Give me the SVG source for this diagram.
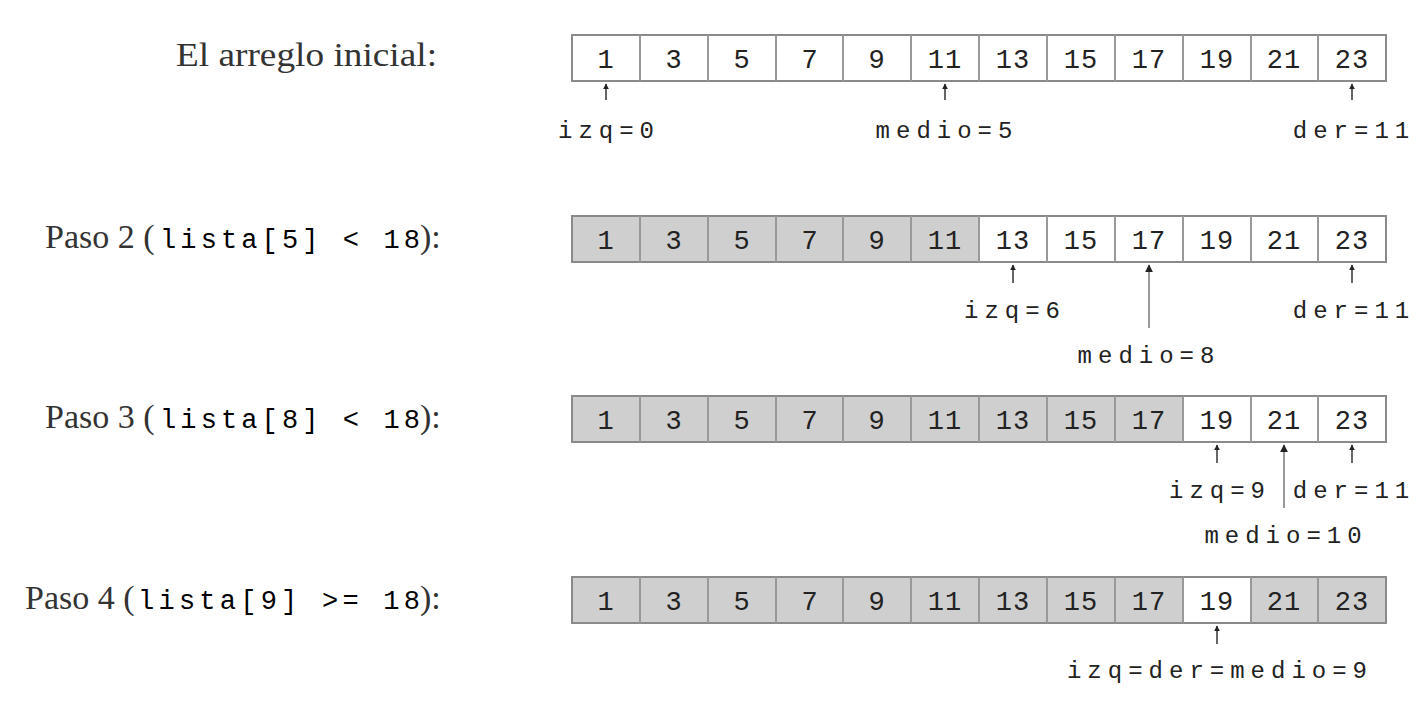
<svg xmlns="http://www.w3.org/2000/svg" width="1427" height="705" viewBox="0 0 1427 705">
<style>
.bg{fill:#fff}
.c{stroke:#8a8a8a;stroke-width:2;fill:none}
.g{fill:#cfcfcf}
.n{font-family:"Liberation Mono",monospace;font-size:27px;fill:#222;text-anchor:middle;letter-spacing:1px}
.l{font-family:"Liberation Mono",monospace;font-size:24px;fill:#222;text-anchor:middle;letter-spacing:6px}
.t{font-family:"Liberation Serif",serif;font-size:34px;fill:#333}
.m{font-family:"Liberation Mono",monospace;font-size:27px}
.a{stroke:#333;stroke-width:1.5;fill:none}
.a2{stroke:#999;stroke-width:2;fill:none}
</style>
<defs>
<marker id="ah" viewBox="0 0 10 10" refX="9" refY="5" markerWidth="4" markerHeight="4" orient="auto">
<path d="M0,0 L10,5 L0,10 z" fill="#222"/>
</marker>
<g id="nums">
<text class="n" x="606">1</text><text class="n" x="674">3</text><text class="n" x="742">5</text><text class="n" x="810">7</text><text class="n" x="877">9</text><text class="n" x="945">11</text><text class="n" x="1013">13</text><text class="n" x="1081">15</text><text class="n" x="1149">17</text><text class="n" x="1217">19</text><text class="n" x="1284">21</text><text class="n" x="1352">23</text>
</g>
<g id="grid">
<rect class="c" x="572" y="0" width="814" height="46"/>
<path class="a2" d="M640,0v46M708,0v46M776,0v46M843,0v46M911,0v46M979,0v46M1047,0v46M1115,0v46M1183,0v46M1251,0v46M1318,0v46"/>
</g>
</defs>
<rect class="bg" x="0" y="0" width="1427" height="705"/>

<g id="row1">
<text class="t" x="176" y="66" textLength="261" lengthAdjust="spacingAndGlyphs">El arreglo inicial:</text>
<rect x="572" y="35" width="814" height="46" fill="#fff"/>
<use href="#grid" y="35"/>
<use href="#nums" y="68"/>
</g>

<g id="row2">
<text class="t" x="45" y="248">Paso 2 (</text>
<text class="m" x="160" y="248" textLength="260" lengthAdjust="spacing">lista[5]  &lt;  18</text>
<text class="t" x="420" y="248">):</text>
<rect x="572" y="216" width="814" height="46" fill="#fff"/>
<rect class="g" x="572" y="216" width="407" height="46"/>
<use href="#grid" y="216"/>
<use href="#nums" y="249"/>
</g>

<g id="row3">
<text class="t" x="45" y="428">Paso 3 (</text>
<text class="m" x="160" y="428" textLength="260" lengthAdjust="spacing">lista[8]  &lt;  18</text>
<text class="t" x="420" y="428">):</text>
<rect x="572" y="396" width="814" height="46" fill="#fff"/>
<rect class="g" x="572" y="396" width="611" height="46"/>
<use href="#grid" y="396"/>
<use href="#nums" y="429"/>
</g>

<g id="row4">
<text class="t" x="25" y="609">Paso 4 (</text>
<text class="m" x="138" y="609" textLength="282" lengthAdjust="spacing">lista[9]  &gt;=  18</text>
<text class="t" x="420" y="609">):</text>
<rect x="572" y="577" width="814" height="46" fill="#fff"/>
<rect class="g" x="572" y="577" width="611" height="46"/>
<rect class="g" x="1251" y="577" width="135" height="46"/>
<use href="#grid" y="577"/>
<use href="#nums" y="610"/>
</g>

<g id="connectors">
<line class="a" x1="606" y1="100" x2="606" y2="84" marker-end="url(#ah)"/>
<line class="a" x1="945" y1="100" x2="945" y2="84" marker-end="url(#ah)"/>
<line class="a" x1="1352" y1="100" x2="1352" y2="84" marker-end="url(#ah)"/>
<line class="a" x1="1013" y1="283" x2="1013" y2="265" marker-end="url(#ah)"/>
<line class="a2" x1="1149" y1="328" x2="1149" y2="265" marker-end="url(#ah)"/>
<line class="a" x1="1352" y1="283" x2="1352" y2="265" marker-end="url(#ah)"/>
<line class="a" x1="1217" y1="463" x2="1217" y2="445" marker-end="url(#ah)"/>
<line class="a2" x1="1284" y1="508" x2="1284" y2="445" marker-end="url(#ah)"/>
<line class="a" x1="1352" y1="463" x2="1352" y2="445" marker-end="url(#ah)"/>
<line class="a" x1="1217" y1="644" x2="1217" y2="626" marker-end="url(#ah)"/>
</g>

<g id="labels">
<text class="l" x="609" y="138">izq=0</text>
<text class="l" x="947" y="138">medio=5</text>
<text class="l" x="1354" y="138">der=11</text>
<text class="l" x="1015" y="318">izq=6</text>
<text class="l" x="1149" y="363">medio=8</text>
<text class="l" x="1354" y="318">der=11</text>
<text class="l" x="1220" y="498">izq=9</text>
<text class="l" x="1354" y="498">der=11</text>
<text class="l" x="1286" y="543">medio=10</text>
<text class="l" x="1220" y="678">izq=der=medio=9</text>
</g>
</svg>
